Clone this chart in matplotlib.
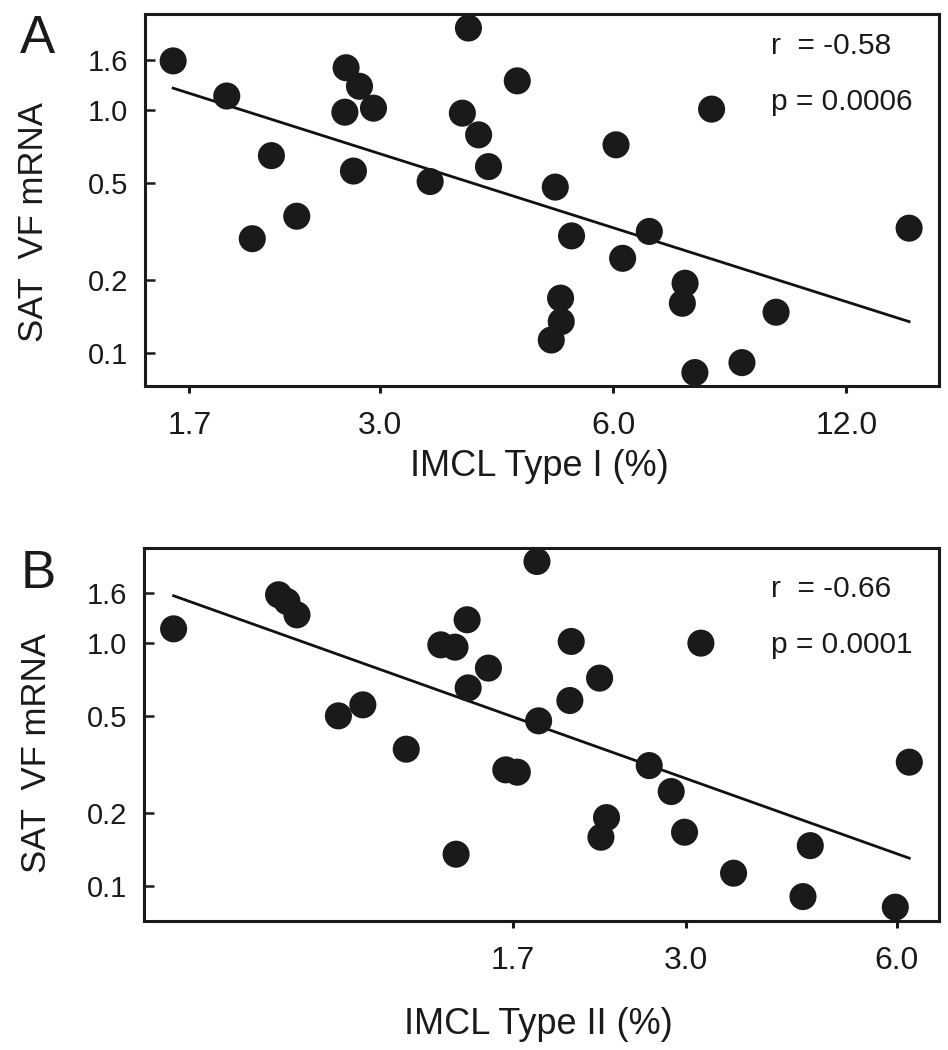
import matplotlib
matplotlib.use('Agg')
import matplotlib.pyplot as plt
import numpy as np

plt.rcParams['font.family'] = ['Liberation Sans', 'DejaVu Sans']

# panel A: IMCL type I vs SAT/VF mRNA
type1_x = [1.62, 1.90, 2.17, 2.05, 2.34, 2.71, 2.82, 2.70, 2.94, 2.77, 3.48,
           3.83, 3.90, 4.02, 4.14, 4.51, 5.05, 5.30, 6.05, 6.17, 6.68, 5.13,
           5.14, 4.99, 7.43, 7.37, 7.65, 8.04, 8.80, 9.74, 14.47]
type1_y = [1.59, 1.14, 0.648, 0.295, 0.365, 1.49, 1.25, 0.978, 1.016, 0.560, 0.507,
           0.969, 2.17, 0.789, 0.584, 1.316, 0.481, 0.303, 0.718, 0.245, 0.316, 0.168,
           0.1345, 0.113, 0.1935, 0.160, 0.083, 1.007, 0.0912, 0.147, 0.326]
fit1_x = [1.62, 14.47]
fit1_y = [1.228, 0.1345]

# panel B: IMCL type II vs SAT/VF mRNA
type2_x = [0.5575, 0.787, 0.809, 0.836, 0.958, 1.038, 1.197, 1.341, 1.405, 1.41, 1.462,
           1.467, 1.839, 1.568, 2.058, 2.259, 2.049, 1.849, 1.66, 1.724, 2.311, 2.269,
           2.659, 2.858, 2.986, 3.151, 3.508, 4.513, 4.406, 5.967, 6.248]
type2_y = [1.138, 1.571, 1.474, 1.299, 0.4996, 0.5545, 0.3646, 0.978, 0.957, 0.135, 1.240,
           0.651, 2.152, 0.785, 1.01, 0.714, 0.5777, 0.4767, 0.2998, 0.2933, 0.1909, 0.1585,
           0.3122, 0.2442, 0.1662, 0.994, 0.1128, 0.1464, 0.0904, 0.0818, 0.3224]
fit2_x = [0.5575, 6.248]
fit2_y = [1.556, 0.130]

yticks = [0.1, 0.2, 0.5, 1.0, 1.6]
xticks1 = [1.7, 3.0, 6.0, 12.0]
xticks2 = [1.7, 3.0, 6.0]

stats1 = ['r  = -0.58', 'p = 0.0006']
stats2 = ['r  = -0.66', 'p = 0.0001']

fig = plt.figure(figsize=(9.48, 10.5), dpi=100)
axA = fig.add_axes([0.153, 0.6324, 0.8376, 0.3543])
axB = fig.add_axes([0.152, 0.1229, 0.8386, 0.355])

panels = [
    (axA, type1_x, type1_y, fit1_x, fit1_y, xticks1, (1.49, 15.82), (0.0731, 2.48), stats1, (0.892, 0.742)),
    (axB, type2_x, type2_y, fit2_x, fit2_y, xticks2, (0.506, 6.89), (0.0718, 2.44), stats2, (0.869, 0.719)),
]

for ax, xs, ys, fx, fy, xt, xl, yl, st, sy in panels:
    ax.set_xscale('log')
    ax.set_yscale('log')
    ax.scatter(xs, ys, s=380, color='#1a1a1a', edgecolors='none', zorder=3, clip_on=False)
    ax.plot(fx, fy, color='#111111', lw=2.0, zorder=2)
    ax.set_xlim(*xl)
    ax.set_ylim(*yl)
    ax.xaxis.set_minor_locator(matplotlib.ticker.NullLocator())
    ax.yaxis.set_minor_locator(matplotlib.ticker.NullLocator())
    ax.set_yticks(yticks)
    ax.set_yticklabels(['%.1f' % v for v in yticks])
    ax.set_xticks(xt)
    ax.set_xticklabels(['%.1f' % v for v in xt])
    ax.tick_params(axis='y', direction='in', length=7, width=1.8, pad=12, labelsize=21, colors='#1a1a1a')
    ax.tick_params(axis='x', direction='out', length=5, width=2.2, pad=13, labelsize=23, colors='#1a1a1a')
    for sp in ax.spines.values():
        sp.set_linewidth(2.2)
        sp.set_color('#1a1a1a')
    ax.text(0.788, sy[0], st[0], transform=ax.transAxes, fontsize=21.5, color='#1a1a1a', va='baseline')
    ax.text(0.788, sy[1], st[1], transform=ax.transAxes, fontsize=21.5, color='#1a1a1a', va='baseline')

fig.text(0.021, 0.9495, 'A', fontsize=38, color='#1a1a1a', va='baseline')
fig.text(0.022, 0.4397, 'B', fontsize=38, color='#1a1a1a', va='baseline')
fig.text(0.035, 0.7886, 'SAT  VF mRNA', rotation=90, fontsize=25, ha='center', va='center', color='#1a1a1a')
fig.text(0.039, 0.2829, 'SAT  VF mRNA', rotation=90, fontsize=25, ha='center', va='center', color='#1a1a1a')
fig.text(0.5686, 1 - 467 / 1050, 'IMCL Type I (%)', fontsize=26, ha='center', va='center', color='#1a1a1a')
fig.text(0.5675, 1 - 1025 / 1050, 'IMCL Type II (%)', fontsize=26, ha='center', va='center', color='#1a1a1a')

fig.savefig('out.png', dpi=100, facecolor='white')
